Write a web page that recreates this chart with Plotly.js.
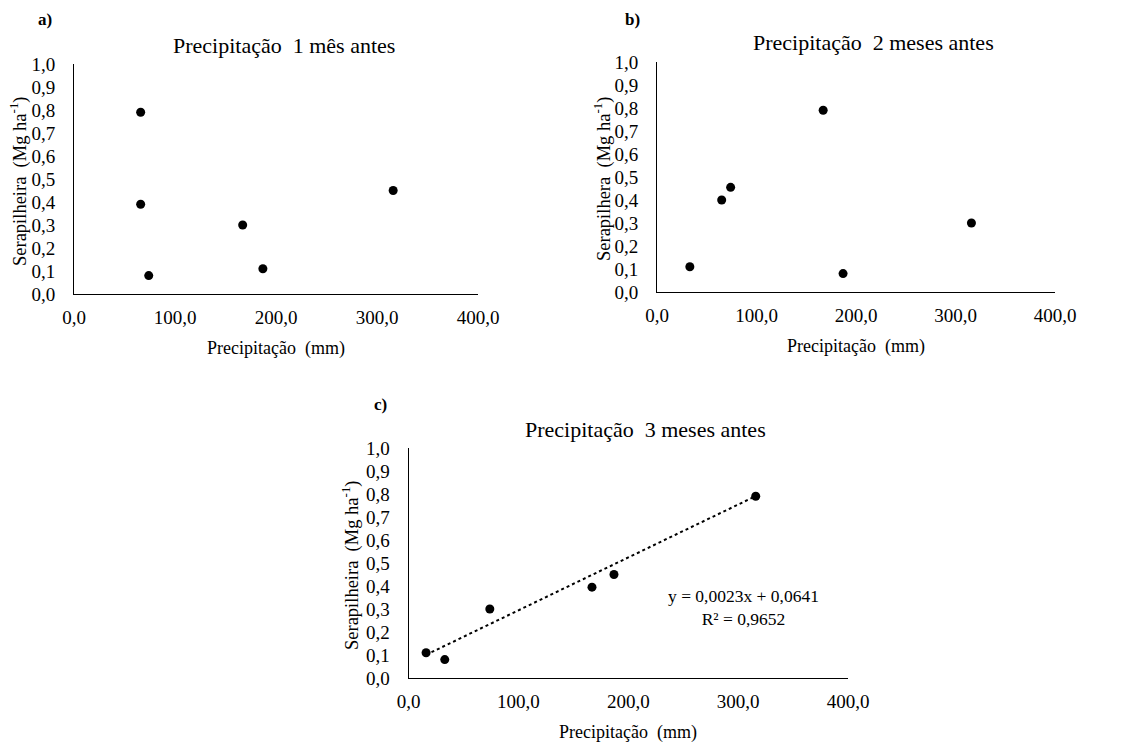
<!DOCTYPE html>
<html>
<head>
<meta charset="utf-8">
<script src="https://cdn.plot.ly/plotly-3.0.1.min.js"></script>
<style>html,body{margin:0;padding:0;background:#fff;}#chart{width:1129px;height:744px;}</style>
</head>
<body>
<div id="chart"></div>
<script>
// ---- data ----
const panelLabels = ["a)", "b)", "c)"];
const panelTitles = ["Precipitação\u00a0 1 mês antes", "Precipitação\u00a0 2 meses antes", "Precipitação\u00a0 3 meses antes"];
const xTitle = "Precipitação\u00a0 (mm)";
const yTitles = ["Serapilheira\u00a0 (Mg ha<sup>-1</sup>)", "Serapilhera\u00a0 (Mg ha<sup>-1</sup>)", "Serapilheira\u00a0 (Mg ha<sup>-1</sup>)"];

const rain1 = [66, 66, 74, 167, 187, 316];
const litter1 = [0.79, 0.39, 0.08, 0.30, 0.11, 0.45];

const rain2 = [33, 65, 74, 167, 187, 316];
const litter2 = [0.11, 0.40, 0.455, 0.79, 0.08, 0.30];

const rain3 = [16, 33, 74, 167, 187, 316];
const litter3 = [0.11, 0.08, 0.30, 0.395, 0.45, 0.79];

const trendSlope = 0.0023;
const trendIntercept = 0.0641;
const trendText = "y = 0,0023x + 0,0641<br>R² = 0,9652";

const xTicks = [0, 100, 200, 300, 400];
const yTicks = [0, 0.1, 0.2, 0.3, 0.4, 0.5, 0.6, 0.7, 0.8, 0.9, 1.0];

// ---- layout helpers ----
const W = 1129, H = 744;
const boxes = [ // pixel boxes [left, right, top, bottom]
  [74, 478, 64, 294],
  [657, 1055, 62, 292],
  [408.5, 848, 448, 678]
];
const font = "Liberation Serif";

const trendX = [Math.min(...rain3), Math.max(...rain3)];
const trendY = trendX.map(v => trendSlope * v + trendIntercept);

const mk = {color: "#000", size: 9};
const traces = [
  {x: rain1, y: litter1, type: "scatter", mode: "markers", marker: mk, xaxis: "x", yaxis: "y", hoverinfo: "x+y"},
  {x: rain2, y: litter2, type: "scatter", mode: "markers", marker: mk, xaxis: "x2", yaxis: "y2", hoverinfo: "x+y"},
  {x: trendX, y: trendY, type: "scatter", mode: "lines", line: {color: "#000", width: 2, dash: "dot"}, xaxis: "x3", yaxis: "y3", hoverinfo: "skip"},
  {x: rain3, y: litter3, type: "scatter", mode: "markers", marker: mk, xaxis: "x3", yaxis: "y3", hoverinfo: "x+y"}
];

const layout = {
  width: W, height: H,
  margin: {l: 0, r: 0, t: 0, b: 0},
  paper_bgcolor: "#fff", plot_bgcolor: "#fff",
  showlegend: false,
  separators: ", ",
  font: {family: font, color: "#000", size: 18},
  annotations: []
};

const titleOffsets = [8, 17, 17];
const titleY = [45, 43, 429];
const labelPos = [[45, 20], [632, 20], [380, 405]];
const yTitleX = [18, 602, 350];

boxes.forEach((b, i) => {
  const s = i === 0 ? "" : String(i + 1);
  const xd = [b[0] / W, b[1] / W];
  const yd = [1 - b[3] / H, 1 - b[2] / H];
  layout["xaxis" + s] = {
    domain: xd, range: [0, 400], anchor: "y" + s,
    tickvals: xTicks, tickformat: ".1f",
    showgrid: false, zeroline: false, showline: true, linecolor: "#000", linewidth: 1,
    ticks: "", ticklabelstandoff: 6,
    tickfont: {family: font, size: 19, color: "#000"}, fixedrange: true
  };
  layout["yaxis" + s] = {
    domain: yd, range: [0, 1], anchor: "x" + s,
    tickvals: yTicks, tickformat: ".1f",
    showgrid: false, zeroline: false, showline: true, linecolor: "#000", linewidth: 1,
    ticks: "", ticklabelstandoff: 14,
    tickfont: {family: font, size: 19, color: "#000"}, fixedrange: true
  };
  const cx = (b[0] + b[1]) / 2;
  const cy = (b[2] + b[3]) / 2;
  layout.annotations.push({
    text: panelTitles[i], xref: "paper", yref: "paper",
    x: (cx + titleOffsets[i]) / W, y: 1 - titleY[i] / H, xanchor: "center", yanchor: "middle",
    showarrow: false, font: {family: font, size: 22, color: "#000"}
  });
  layout.annotations.push({
    text: "<b>" + panelLabels[i] + "</b>", xref: "paper", yref: "paper",
    x: labelPos[i][0] / W, y: 1 - labelPos[i][1] / H, xanchor: "center", yanchor: "middle",
    showarrow: false, font: {family: font, size: 17, color: "#000"}
  });
  layout.annotations.push({
    text: xTitle, xref: "paper", yref: "paper",
    x: cx / W, y: 1 - (b[3] + 54) / H, xanchor: "center", yanchor: "middle",
    showarrow: false, font: {family: font, size: 18, color: "#000"}
  });
  layout.annotations.push({
    text: yTitles[i], xref: "paper", yref: "paper", textangle: -90,
    x: yTitleX[i] / W, y: 1 - (cy + 2) / H, xanchor: "center", yanchor: "middle",
    showarrow: false, font: {family: font, size: 18.5, color: "#000"}
  });
});

layout.annotations.push({
  text: trendText, xref: "paper", yref: "paper",
  x: 743 / W, y: 1 - 607 / H, xanchor: "center", yanchor: "middle", align: "center",
  showarrow: false, font: {family: font, size: 17.5, color: "#000"}
});

Plotly.newPlot("chart", traces, layout, {displayModeBar: false, staticPlot: true});
</script>
</body>
</html>
